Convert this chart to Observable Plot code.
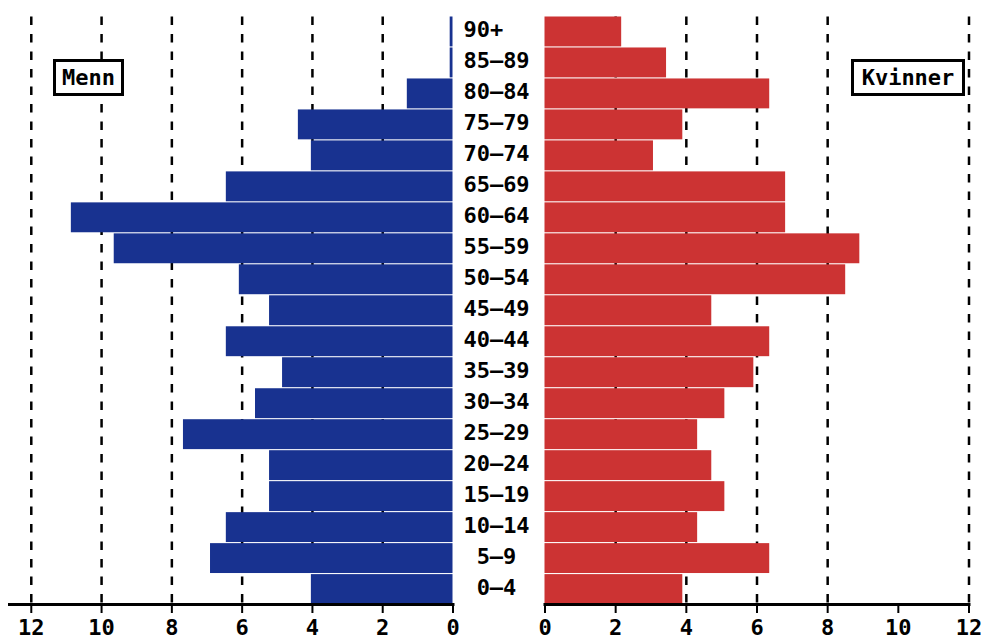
<!DOCTYPE html>
<html><head><meta charset="utf-8">
<script src="https://cdn.jsdelivr.net/npm/d3@7"></script>
<script src="https://cdn.jsdelivr.net/npm/@observablehq/plot@0.6"></script>
<style>
html,body{margin:0;padding:0;background:#fff;overflow:hidden;}
#chart{position:relative;width:981px;height:641px;}
#chart svg{position:absolute;left:0;top:0;}
.legend{position:absolute;border:3px solid #000;box-sizing:border-box;font:bold 22px "DejaVu Sans Mono",monospace;display:flex;align-items:center;justify-content:center;background:#fff;color:#000;}
</style></head><body><div id="chart"></div>
<script>
// Age groups, top to bottom
const ageGroups = ["90+","85–89","80–84","75–79","70–74","65–69","60–64","55–59","50–54","45–49","40–44","35–39","30–34","25–29","20–24","15–19","10–14","5–9","0–4"];
// Men (Menn), percent
const menValues = [0.08,0.08,1.30,4.40,4.03,6.45,10.86,9.64,6.08,5.22,6.45,4.85,5.62,7.67,5.22,5.22,6.45,6.90,4.03];
// Women (Kvinner), percent
const womenValues = [2.17,3.44,6.36,3.90,3.07,6.81,6.81,8.91,8.51,4.72,6.36,5.91,5.09,4.32,4.72,5.09,4.32,6.36,3.90];
const xTicks = [0,2,4,6,8,10,12];
const menGrid = [2,4,6,8,10,12];
const womenGrid = [2,4,6,8,12];
const seriesNames = ["Menn","Kvinner"];
const seriesColors = ["#183290","#cc3333"];

const W = 981, H = 641;
const font = "'DejaVu Sans Mono', monospace";
const menData = ageGroups.map((a,i)=>({age:a, value:menValues[i]}));
const womenData = ageGroups.map((a,i)=>({age:a, value:womenValues[i]}));

const yScale = {domain: ageGroups, paddingInner: 0.035, paddingOuter: 0, round: false, axis: null, label: null};
const common = {width: W, height: H, marginTop: 16.5, marginBottom: 37,
  style: {background: "transparent", fontFamily: font, fontSize: "22px", fontWeight: "bold", color: "#000"}};

const left = Plot.plot({
  ...common,
  marginLeft: 9, marginRight: W - 452.5,
  x: {domain: [0, 12.62], reverse: true, label: null},
  y: yScale,
  marks: [
    Plot.ruleX(menGrid, {stroke: "#000", strokeWidth: 2.5, strokeDasharray: "8.5,9"}),
    Plot.barX(menData, {x: "value", y: "age", fill: seriesColors[0]}),
    Plot.frame({anchor: "bottom", stroke: "#000", strokeWidth: 3}),
    Plot.axisX(xTicks, {anchor: "bottom", tickSize: 9, tickPadding: 6, strokeWidth: 2, label: null, fontSize: 22, fontWeight: "bold", fontFamily: font})
  ]
});

const right = Plot.plot({
  ...common,
  marginLeft: 544.5, marginRight: W - 968.5,
  x: {domain: [0, 12], label: null},
  y: yScale,
  marks: [
    Plot.ruleX(womenGrid, {stroke: "#000", strokeWidth: 2.5, strokeDasharray: "8.5,9"}),
    Plot.barX(womenData, {x: "value", y: "age", fill: seriesColors[1]}),
    Plot.frame({anchor: "bottom", stroke: "#000", strokeWidth: 3}),
    Plot.axisX(xTicks, {anchor: "bottom", tickSize: 9, tickPadding: 6, strokeWidth: 2, label: null, fontSize: 22, fontWeight: "bold", fontFamily: font}),
    Plot.text(ageGroups, {x: () => 0, y: d => d, text: d => d.endsWith("+") ? d + "\u00A0\u00A0" : d,
      dx: -48.5, dy: -1.5, textAnchor: "middle", fontSize: 22, fontWeight: "bold", fontFamily: font, fill: "#000"})
  ]
});

const chart = document.getElementById("chart");
chart.appendChild(left);
chart.appendChild(right);

const boxes = [
  {name: seriesNames[0], left: 53, top: 59, width: 71, height: 37},
  {name: seriesNames[1], left: 851, top: 59, width: 114, height: 37}
];
for (const b of boxes) {
  const d = document.createElement("div");
  d.className = "legend";
  d.textContent = b.name;
  Object.assign(d.style, {left: b.left + "px", top: b.top + "px", width: b.width + "px", height: b.height + "px"});
  chart.appendChild(d);
}
</script></body></html>
